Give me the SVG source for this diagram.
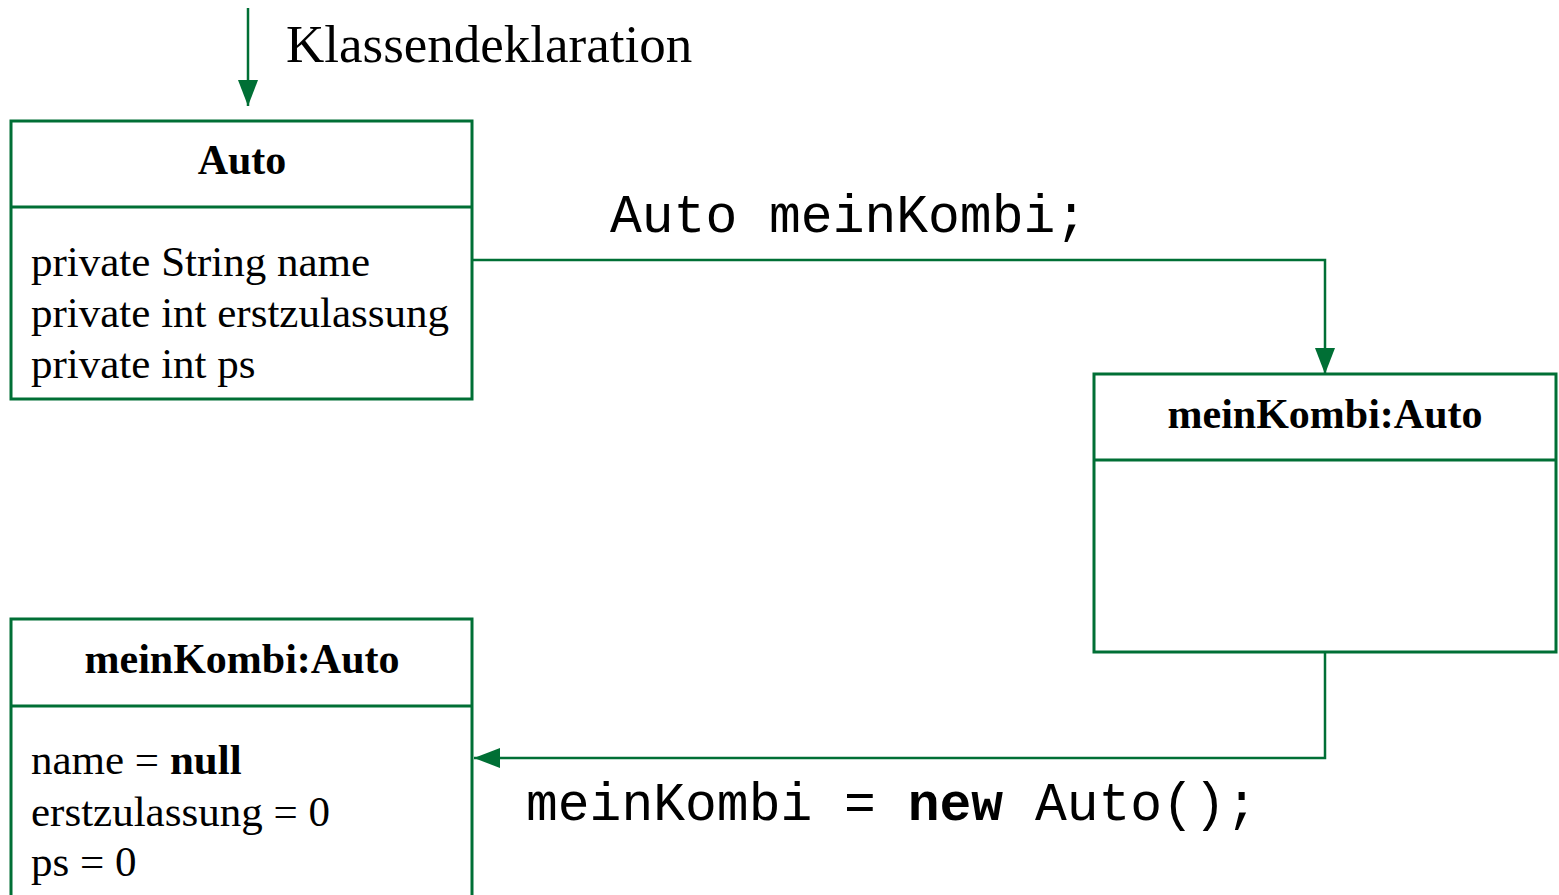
<svg xmlns="http://www.w3.org/2000/svg" width="1559" height="895" viewBox="0 0 1559 895">
<style>
.box{fill:#fff;stroke:#006F35;stroke-width:3}
.div{stroke:#006F35;stroke-width:3}
.con{fill:none;stroke:#006F35;stroke-width:2.5}
.t{font-family:"Liberation Serif","Times New Roman",serif;font-size:43px;fill:#000}
.b{font-weight:bold;font-size:42px}
.m{font-family:"Liberation Mono","Courier New",monospace;font-size:53px;fill:#000}
</style>
<defs>
<marker id="ah" viewBox="0 0 26 20" refX="26" refY="10" markerWidth="26" markerHeight="20" markerUnits="userSpaceOnUse" orient="auto">
<path d="M0,0 L26,10 L0,20 Z" fill="#006F35"/>
</marker>
</defs>
<g id="connectors">
<line class="con" x1="248" y1="8" x2="248" y2="106" marker-end="url(#ah)"/>
<polyline class="con" points="472,260 1325,260 1325,374" marker-end="url(#ah)"/>
<polyline class="con" points="1325,652 1325,758 474,758" marker-end="url(#ah)"/>
</g>
<text class="t" x="286" y="62" style="font-size:53px">Klassendeklaration</text>
<text class="m" x="610" y="232">Auto meinKombi;</text>
<text class="m" x="526" y="820">meinKombi = <tspan font-weight="bold">new</tspan> Auto();</text>
<g id="auto">
<rect class="box" x="11" y="121" width="461" height="278"/>
<line class="div" x1="11" y1="207" x2="472" y2="207"/>
<text class="t b" x="242" y="174" text-anchor="middle">Auto</text>
<text class="t" x="31" y="276">private String name</text>
<text class="t" x="31" y="327">private int erstzulassung</text>
<text class="t" x="31" y="378">private int ps</text>
</g>
<g id="meinKombi1">
<rect class="box" x="1094" y="374" width="462" height="278"/>
<line class="div" x1="1094" y1="460" x2="1556" y2="460"/>
<text class="t b" x="1325" y="428" text-anchor="middle">meinKombi:Auto</text>
</g>
<g id="meinKombi2">
<rect class="box" x="11" y="619" width="461" height="290"/>
<line class="div" x1="11" y1="706" x2="472" y2="706"/>
<text class="t b" x="242" y="673" text-anchor="middle">meinKombi:Auto</text>
<text class="t" x="31" y="774">name = <tspan font-weight="bold">null</tspan></text>
<text class="t" x="31" y="826">erstzulassung = 0</text>
<text class="t" x="31" y="876">ps = 0</text>
</g>
</svg>
